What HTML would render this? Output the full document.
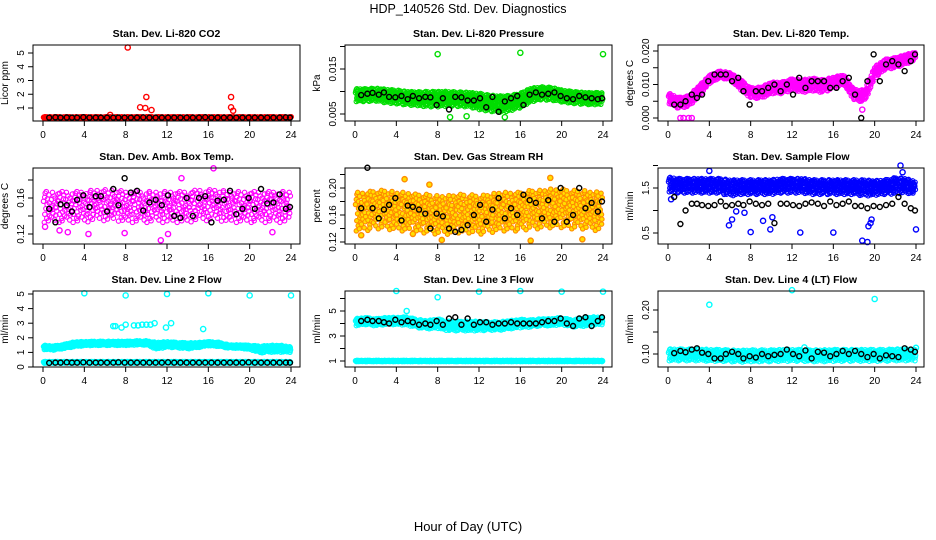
<!DOCTYPE html>
<html><head><meta charset="utf-8">
<style>
html,body{margin:0;padding:0;background:#fff;}
svg{display:block;font-family:"Liberation Sans",Arial,sans-serif;}
</style></head>
<body>
<svg id="fig" width="936" height="540" viewBox="0 0 936 540" xmlns="http://www.w3.org/2000/svg">
<text x="468" y="13" font-size="12.5" text-anchor="middle">HDP_140526  Std. Dev. Diagnostics</text>
<text x="468" y="531" font-size="13" text-anchor="middle">Hour of Day (UTC)</text>
</svg>
<script>
// ---- shared data ----
const blackHours = [0.6,1.2,1.7,2.3,2.8,3.3,3.9,4.5,5.1,5.6,6.2,6.8,7.3,7.9,8.5,9.1,9.7,10.3,10.9,11.5,12.1,12.7,13.3,13.9,14.5,15.1,15.7,16.3,16.9,17.5,18.1,18.7,19.3,19.9,20.5,21.1,21.7,22.3,22.9,23.5,23.9];
const cloudHours = [0,1,2,3,4,5,6,7,8,9,10,11,12,13,14,15,16,17,18,19,20,21,22,23,24];
const xTickLabels = [0,4,8,12,16,20,24];

// Panel 1: CO2
const co2Center = [0.3,0.3,0.3,0.3,0.3,0.3,0.3,0.3,0.3,0.3,0.3,0.3,0.3,0.3,0.3,0.3,0.3,0.3,0.3,0.3,0.3,0.3,0.3,0.3,0.3];
const co2Spread = [0.07,0.07,0.07,0.07,0.07,0.07,0.07,0.07,0.07,0.07,0.07,0.07,0.07,0.07,0.07,0.07,0.07,0.07,0.07,0.07,0.07,0.07,0.07,0.07,0.07];
const co2Black = [0.3,0.32,0.3,0.31,0.3,0.3,0.33,0.3,0.3,0.3,0.3,0.3,0.3,0.3,0.3,0.3,0.32,0.3,0.3,0.3,0.3,0.3,0.3,0.3,0.3,0.3,0.33,0.3,0.3,0.3,0.3,0.3,0.3,0.3,0.3,0.3,0.3,0.3,0.3,0.32,0.3];
const co2OutX = [8.2,9.4,9.9,10.0,10.5,18.2,18.2,18.4,6.5];
const co2OutY = [5.4,1.05,1.0,1.8,0.85,1.8,1.05,0.8,0.5];

// Panel 2: pressure
const presCenter = [0.0092,0.0092,0.0093,0.0090,0.0088,0.0085,0.0084,0.0083,0.0083,0.0084,0.0083,0.0082,0.0078,0.0074,0.0072,0.0074,0.0080,0.0092,0.0096,0.0095,0.0090,0.0087,0.0085,0.0084,0.0085];
const presSpread = [0.0015,0.0015,0.0015,0.0016,0.0016,0.0016,0.0016,0.0018,0.0018,0.0017,0.0017,0.0017,0.0019,0.0019,0.0019,0.0018,0.0017,0.0016,0.0015,0.0015,0.0014,0.0014,0.0014,0.0014,0.0014];
const presBlack = [0.0092,0.0095,0.0097,0.0093,0.0098,0.0088,0.0087,0.0090,0.0083,0.0090,0.0085,0.0088,0.0087,0.0070,0.0085,0.0060,0.0088,0.0087,0.0080,0.0080,0.0085,0.0065,0.0088,0.0055,0.0078,0.0085,0.0090,0.0070,0.0093,0.0098,0.0093,0.0095,0.0098,0.0090,0.0085,0.0083,0.0090,0.0087,0.0085,0.0083,0.0085];
const presOutX = [8.0,16.0,24.0,9.2,14.5,10.8];
const presOutY = [0.0183,0.0186,0.0183,0.0043,0.0043,0.0045];

// Panel 3: temp
const tempCenter = [0.0060,0.0045,0.0050,0.0080,0.0115,0.0130,0.0125,0.0100,0.0075,0.0075,0.0090,0.0090,0.0100,0.0095,0.0100,0.0095,0.0105,0.0115,0.0070,0.0065,0.0135,0.0160,0.0165,0.0175,0.0185];
const tempSpread = [0.0016,0.0017,0.0017,0.0017,0.0013,0.0011,0.0011,0.0016,0.0016,0.0018,0.0018,0.0018,0.0018,0.0020,0.0020,0.0020,0.0018,0.0015,0.0017,0.0019,0.0019,0.0016,0.0016,0.0015,0.0013];
const tempBlack = [0.004,0.004,0.005,0.007,0.006,0.007,0.011,0.013,0.013,0.013,0.011,0.012,0.008,0.004,0.008,0.008,0.009,0.010,0.008,0.010,0.007,0.012,0.009,0.011,0.011,0.011,0.009,0.009,0.011,0.012,0.007,0.000,0.011,0.019,0.011,0.016,0.017,0.016,0.014,0.017,0.019];
const tempOutX = [1.2,1.5,2.0,2.3,18.8];
const tempOutY = [0.0,0.0,0.0,0.0,0.0025];

// Panel 4: ambient box temp
const ambCenter = [0.150,0.150,0.150,0.150,0.150,0.152,0.152,0.152,0.150,0.150,0.150,0.150,0.150,0.150,0.150,0.152,0.152,0.152,0.150,0.150,0.150,0.150,0.150,0.150,0.150];
const ambSpread = [0.018,0.018,0.018,0.018,0.018,0.018,0.018,0.018,0.018,0.018,0.018,0.018,0.018,0.018,0.018,0.018,0.018,0.018,0.018,0.018,0.018,0.018,0.018,0.018,0.018];
const ambBlack = [0.148,0.133,0.153,0.152,0.145,0.158,0.163,0.150,0.162,0.162,0.145,0.170,0.152,0.182,0.166,0.168,0.146,0.155,0.158,0.152,0.163,0.140,0.138,0.160,0.140,0.160,0.162,0.133,0.157,0.158,0.168,0.142,0.148,0.160,0.148,0.170,0.154,0.155,0.164,0.148,0.150];
const ambOutX = [11.4,16.5,13.4,4.4,2.4,0.2,1.6,22.2,12.1,7.9];
const ambOutY = [0.113,0.193,0.182,0.120,0.122,0.128,0.124,0.122,0.120,0.121];

// Panel 5: gas stream RH
const rhCenter = [0.165,0.165,0.168,0.168,0.165,0.165,0.162,0.162,0.160,0.160,0.162,0.162,0.160,0.162,0.165,0.165,0.165,0.168,0.168,0.170,0.170,0.168,0.168,0.166,0.165];
const rhSpread = [0.030,0.030,0.030,0.030,0.030,0.030,0.030,0.030,0.030,0.030,0.030,0.030,0.030,0.030,0.030,0.030,0.030,0.030,0.030,0.030,0.030,0.030,0.030,0.030,0.030];
const rhBlack = [0.170,0.230,0.170,0.155,0.168,0.175,0.185,0.152,0.174,0.172,0.168,0.162,0.140,0.162,0.158,0.140,0.135,0.138,0.145,0.160,0.175,0.150,0.168,0.185,0.155,0.170,0.160,0.190,0.182,0.178,0.155,0.182,0.150,0.200,0.150,0.160,0.200,0.170,0.178,0.165,0.180];
const rhOutX = [4.8,7.2,18.9,8.4,17.0,22.0,0.6,5.6];
const rhOutY = [0.213,0.205,0.215,0.123,0.122,0.124,0.130,0.132];

// Panel 6: sample flow
const sfCenter = [1.58,1.55,1.55,1.55,1.55,1.55,1.50,1.52,1.52,1.52,1.52,1.55,1.55,1.55,1.52,1.52,1.52,1.52,1.52,1.50,1.50,1.52,1.55,1.55,1.50];
const sfSpread = [0.17,0.17,0.17,0.17,0.17,0.17,0.19,0.17,0.17,0.17,0.17,0.17,0.17,0.17,0.17,0.17,0.17,0.17,0.17,0.19,0.17,0.17,0.19,0.17,0.15];
const sfBlack = [1.30,0.70,1.00,1.15,1.15,1.12,1.10,1.12,1.20,1.10,1.12,1.15,1.12,1.20,1.15,1.12,1.15,0.72,1.15,1.15,1.12,1.10,1.15,1.18,1.15,1.10,1.20,1.12,1.15,1.20,1.10,1.10,1.05,1.10,1.08,1.12,1.15,1.30,1.15,1.05,1.00];
const sfOutX = [5.9,6.2,6.6,7.4,8.0,9.2,9.9,10.1,12.8,16.0,18.8,19.3,19.4,19.6,19.7,24.0,0.3,4.0,22.5,22.7];
const sfOutY = [0.67,0.80,0.98,0.95,0.52,0.77,0.58,0.85,0.51,0.51,0.33,0.30,0.65,0.72,0.80,0.58,1.25,1.88,2.00,1.85];

// Panel 7: line 2 flow
const l2Center = [1.35,1.30,1.40,1.55,1.60,1.62,1.62,1.62,1.62,1.65,1.65,1.45,1.55,1.50,1.45,1.50,1.60,1.55,1.40,1.40,1.35,1.20,1.25,1.25,1.20];
const l2Spread = [0.15,0.15,0.15,0.18,0.15,0.15,0.15,0.15,0.15,0.15,0.15,0.25,0.20,0.20,0.22,0.18,0.15,0.15,0.12,0.12,0.15,0.25,0.25,0.25,0.20];
const l2LowCenter = [0.32,0.32,0.32,0.32,0.32,0.32,0.32,0.32,0.32,0.32,0.32,0.32,0.32,0.32,0.32,0.32,0.32,0.32,0.32,0.32,0.32,0.32,0.32,0.32,0.32];
const l2LowSpread = [0.06,0.06,0.06,0.06,0.06,0.06,0.06,0.06,0.06,0.06,0.06,0.06,0.06,0.06,0.06,0.06,0.06,0.06,0.06,0.06,0.06,0.06,0.06,0.06,0.06];
const l2Black = [0.28,0.30,0.30,0.32,0.30,0.30,0.32,0.30,0.30,0.30,0.30,0.30,0.32,0.30,0.30,0.30,0.30,0.30,0.30,0.30,0.32,0.30,0.30,0.30,0.30,0.30,0.30,0.30,0.30,0.30,0.30,0.30,0.30,0.32,0.30,0.30,0.30,0.30,0.30,0.30,0.30];
const l2OutX = [4.0,8.0,12.0,16.0,20.0,24.0,6.8,7.0,7.6,8.0,8.8,9.2,9.6,10.0,10.4,10.8,11.9,12.4,15.5];
const l2OutY = [5.05,4.9,5.0,5.05,4.9,4.9,2.8,2.8,2.7,2.9,2.85,2.85,2.9,2.9,2.9,3.0,2.7,3.0,2.6];

// Panel 8: line 3 flow
const l3Center = [4.1,4.2,4.1,4.2,4.2,4.2,4.0,3.9,4.0,3.8,3.8,3.8,3.8,3.8,3.8,3.9,4.0,4.0,4.1,4.1,4.2,4.0,4.1,4.2,4.2];
const l3Spread = [0.3,0.3,0.3,0.3,0.3,0.35,0.35,0.35,0.4,0.4,0.4,0.4,0.4,0.35,0.35,0.35,0.35,0.3,0.3,0.3,0.3,0.3,0.35,0.35,0.3];
const l3LowCenter = [1.0,1.0,1.0,1.0,1.0,1.0,1.0,1.0,1.0,1.0,1.0,1.0,1.0,1.0,1.0,1.0,1.0,1.0,1.0,1.0,1.0,1.0,1.0,1.0,1.0];
const l3LowSpread = [0.05,0.05,0.05,0.05,0.05,0.05,0.05,0.05,0.05,0.05,0.05,0.05,0.05,0.05,0.05,0.05,0.05,0.05,0.05,0.05,0.05,0.05,0.05,0.05,0.05];
const l3Black = [4.2,4.3,4.2,4.2,4.1,4.0,4.3,4.1,4.2,4.1,3.9,4.0,3.9,4.2,3.9,4.4,4.5,3.9,4.4,3.9,4.1,4.1,3.9,4.0,4.0,4.1,4.0,4.0,4.0,4.0,4.1,4.2,4.2,4.4,4.0,3.8,4.4,4.5,3.8,4.2,4.5];
const l3OutX = [4.0,8.0,12.0,16.0,20.0,24.0,5.0];
const l3OutY = [6.6,6.1,6.55,6.6,6.55,6.55,5.0];

// Panel 9: line 4 flow
const l4Center = [0.098,0.098,0.098,0.098,0.097,0.097,0.096,0.095,0.096,0.096,0.096,0.097,0.097,0.097,0.096,0.096,0.097,0.097,0.097,0.097,0.097,0.097,0.098,0.098,0.098];
const l4Spread = [0.014,0.014,0.014,0.014,0.014,0.014,0.014,0.014,0.014,0.014,0.014,0.014,0.014,0.014,0.014,0.014,0.014,0.014,0.014,0.014,0.014,0.014,0.014,0.014,0.014];
const l4Black = [0.102,0.107,0.104,0.110,0.113,0.103,0.100,0.090,0.090,0.100,0.105,0.100,0.090,0.095,0.092,0.100,0.095,0.098,0.100,0.110,0.100,0.095,0.108,0.090,0.105,0.103,0.095,0.100,0.107,0.100,0.107,0.100,0.093,0.100,0.090,0.097,0.095,0.093,0.113,0.110,0.105];
const l4OutX = [4.0,12.0,20.0,24.0,13.2];
const l4OutY = [0.212,0.245,0.225,0.114,0.115];

// ---- drawing ----
const svg = document.getElementById('fig');
const NS = 'http://www.w3.org/2000/svg';
const OFFS = [-0.95,0.35,-0.45,0.85,-0.1,0.6,-0.7,0.15,0.95,-0.3,0.5,-0.85,0.25,-0.55,0.75,0.0,-0.2,0.45,-0.62,0.08,0.9,-0.38,0.68,-0.15,0.3,-0.8,0.55,-0.05,0.2,-0.5,0.8,-0.25,0.4];
const XJIT = [0.03,-0.05,0.07,-0.02,0.05,-0.07,0.01,0.04,-0.04,0.06,-0.06,0.02,-0.01];

function mk(tag, attrs, parent){
  const e = document.createElementNS(NS, tag);
  for (const k in attrs) e.setAttribute(k, attrs[k]);
  (parent||svg).appendChild(e);
  return e;
}
function interp(arr, h){
  h = Math.max(0, Math.min(24, h));
  const i = Math.min(Math.floor(h), arr.length-2);
  const f = h - i;
  return arr[i]*(1-f) + arr[i+1]*f;
}

const cols = [{bx0:33,bx1:300,x0:43,x1:291},{bx0:345,bx1:612,x0:355,x1:603},{bx0:658,bx1:924,x0:668,x1:916}];
const rows = [{by0:45,by1:121},{by0:168,by1:244},{by0:291,by1:367}];

const panels = [
 {key:'co2',title:'Stan. Dev. Li-820 CO2',ylab:'Licor ppm',c:0,r:0,v0:1,p0:108,v1:5,p1:53,ticks:[1,2,3,4,5],tlab:['1','2','3','4','5'],color:'#ff0000',fill:'none',step:0.09,
  clouds:[[co2Center,co2Spread]],black:co2Black,ox:co2OutX,oy:co2OutY},
 {key:'pressure',title:'Stan. Dev. Li-820 Pressure',ylab:'kPa',c:1,r:0,v0:0.005,p0:114,v1:0.015,p1:69,ticks:[0.005,0.010,0.015,0.020],tlab:['0.005','','0.015',''],color:'#00dd00',fill:'none',step:0.06,
  clouds:[[presCenter,presSpread]],black:presBlack,ox:presOutX,oy:presOutY},
 {key:'temp',title:'Stan. Dev. Li-820 Temp.',ylab:'degrees C',c:2,r:0,v0:0,p0:118,v1:0.020,p1:51,ticks:[0,0.005,0.010,0.015,0.020],tlab:['0.000','','0.010','','0.020'],color:'#ff00ff',fill:'none',step:0.07,
  clouds:[[tempCenter,tempSpread]],black:tempBlack,ox:tempOutX,oy:tempOutY},
 {key:'amb-temp',title:'Stan. Dev. Amb. Box Temp.',ylab:'degrees C',c:0,r:1,v0:0.12,p0:234,v1:0.16,p1:198,ticks:[0.12,0.14,0.16,0.18],tlab:['0.12','','0.16',''],color:'#ff00ff',fill:'none',step:0.13,
  clouds:[[ambCenter,ambSpread]],black:ambBlack,ox:ambOutX,oy:ambOutY},
 {key:'rh',title:'Stan. Dev. Gas Stream RH',ylab:'percent',c:1,r:1,v0:0.12,p0:242,v1:0.20,p1:188,ticks:[0.12,0.14,0.16,0.18,0.20,0.22],tlab:['0.12','','0.16','','0.20',''],color:'#ff8c00',fill:'#ffe000',step:0.1,
  clouds:[[rhCenter,rhSpread]],black:rhBlack,ox:rhOutX,oy:rhOutY},
 {key:'sample-flow',title:'Stan. Dev. Sample Flow',ylab:'ml/min',c:2,r:1,v0:0.5,p0:233,v1:1.5,p1:188,ticks:[0.5,1.0,1.5,2.0],tlab:['0.5','','1.5',''],color:'#0000ff',fill:'none',step:0.07,
  clouds:[[sfCenter,sfSpread]],black:sfBlack,ox:sfOutX,oy:sfOutY},
 {key:'line2',title:'Stan. Dev. Line 2 Flow',ylab:'ml/min',c:0,r:2,v0:0,p0:367,v1:5,p1:294,ticks:[0,1,2,3,4,5],tlab:['0','1','2','3','4','5'],color:'#00ffff',fill:'none',step:0.08,
  clouds:[[l2Center,l2Spread],[l2LowCenter,l2LowSpread]],black:l2Black,ox:l2OutX,oy:l2OutY},
 {key:'line3',title:'Stan. Dev. Line 3 Flow',ylab:'ml/min',c:1,r:2,v0:1,p0:361,v1:5,p1:311,ticks:[1,2,3,4,5,6],tlab:['1','','3','','5',''],color:'#00ffff',fill:'none',step:0.08,
  clouds:[[l3Center,l3Spread],[l3LowCenter,l3LowSpread]],black:l3Black,ox:l3OutX,oy:l3OutY},
 {key:'line4',title:'Stan. Dev. Line 4 (LT) Flow',ylab:'ml/min',c:2,r:2,v0:0.10,p0:354,v1:0.20,p1:310,ticks:[0.10,0.15,0.20],tlab:['0.10','','0.20'],color:'#00ffff',fill:'none',step:0.08,
  clouds:[[l4Center,l4Spread]],black:l4Black,ox:l4OutX,oy:l4OutY}
];

panels.forEach(p=>{
  const C = cols[p.c], R = rows[p.r];
  const xs = h => C.x0 + (C.x1-C.x0)*h/24;
  const ys = v => p.p0 + (p.p1-p.p0)*(v-p.v0)/(p.v1-p.v0);
  const g = mk('g',{});
  
  

  const t = mk('text',{x:(C.bx0+C.bx1)/2,y:R.by0-8,'font-size':'10.5','font-weight':'bold','text-anchor':'middle'},g);
  t.textContent = p.title;
  
  

  const yl = mk('text',{x:0,y:0,'font-size':'10','text-anchor':'middle',transform:`translate(${C.bx0-25},${(R.by0+R.by1)/2}) rotate(-90)`},g);
  yl.textContent = p.ylab;
  
  

  const cg = mk('g',{stroke:p.color,fill:p.fill,'stroke-width':'1.1'},g);
  
  
  p.clouds.forEach(([cen,spr])=>{
    let k = 0;
    for (let h=0.1; h<=23.95; h+=p.step){
      for (let j=0;j<3;j++){
        const o = OFFS[k%OFFS.length];
        const hj = h + XJIT[k%XJIT.length];
        k++;
        const v = interp(cen,hj) + o*interp(spr,hj);
        mk('circle',{cx:xs(hj).toFixed(1),cy:ys(v).toFixed(1),r:'2.2'},cg);
      }
    }
  });
  p.ox.forEach((h,i)=>{
    const c = mk('circle',{cx:xs(h),cy:ys(p.oy[i]),r:'2.6',stroke:p.color,fill:p.fill,'stroke-width':'1.4'},g);
    
    
  });
  const bg = mk('g',{stroke:'#000',fill:'none','stroke-width':'1.4'},g);
  
  
  blackHours.forEach((h,i)=>{
    mk('circle',{cx:xs(h),cy:ys(p.black[i]),r:'2.5'},bg);
  });

  const box = mk('rect',{x:C.bx0,y:R.by0,width:C.bx1-C.bx0,height:R.by1-R.by0,fill:'none',stroke:'#000','stroke-width':'1'},g);
  
  

  const xg = mk('g',{},g);
  
  
  xTickLabels.forEach(h=>{
    mk('line',{x1:xs(h),x2:xs(h),y1:R.by1,y2:R.by1+5,stroke:'#000'},xg);
    const tl = mk('text',{x:xs(h),y:R.by1+17,'font-size':'10','text-anchor':'middle'},xg);
    tl.textContent = h;
  });
  const yg = mk('g',{},g);
  
  
  p.ticks.forEach((v,i)=>{
    const y = ys(v);
    if (y < R.by0-4 || y > R.by1+4) return;
    mk('line',{x1:C.bx0-5,x2:C.bx0,y1:y,y2:y,stroke:'#000'},yg);
    if (p.tlab[i]){
      const tl = mk('text',{x:0,y:0,'font-size':'10','text-anchor':'middle',transform:`translate(${C.bx0-9},${y}) rotate(-90)`},yg);
      tl.textContent = p.tlab[i];
    }
  });
});
</script>
</body></html>
